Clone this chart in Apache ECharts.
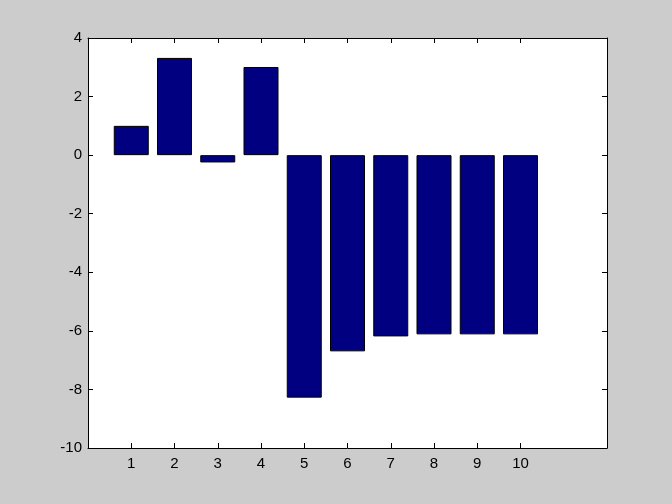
<!DOCTYPE html>
<html><head><meta charset="utf-8">
<script src="https://cdn.jsdelivr.net/npm/echarts@6/dist/echarts.min.js"></script>
<style>html,body{margin:0;padding:0;background:#cccccc}#c{width:672px;height:504px}</style>
</head><body><div id="c"></div>
<script>
var categories = [1, 2, 3, 4, 5, 6, 7, 8, 9, 10];
var values = [1.0, 3.32, -0.25, 3.01, -8.28, -6.7, -6.19, -6.12, -6.12, -6.12];
var yTicks = [-10, -8, -6, -4, -2, 0, 2, 4];

var chart = echarts.init(document.getElementById('c'), null, {renderer: 'canvas'});
var data = categories.map(function (c, i) { return [c, values[i]]; });
var font = {fontFamily: 'Liberation Sans, Arial', fontSize: 15, color: '#000'};
var line = {show: true, onZero: false, lineStyle: {color: '#000', width: 1}};
var tick = {show: true, inside: true, length: 5, lineStyle: {color: '#000', width: 1}};
option = {
  backgroundColor: '#cccccc',
  animation: false,
  grid: {left: 88, top: 38, right: 65, bottom: 56, show: true, backgroundColor: '#ffffff', borderWidth: 0},
  xAxis: [
    {type: 'value', min: 0, max: 12, interval: 1, position: 'bottom',
     axisLine: line, splitLine: {show: false},
     axisTick: Object.assign({customValues: categories}, tick),
     axisLabel: Object.assign({customValues: categories, margin: 8}, font)},
    {type: 'value', min: 0, max: 12, interval: 1, position: 'top',
     axisLine: line, splitLine: {show: false},
     axisTick: Object.assign({customValues: categories}, tick),
     axisLabel: {show: false}}
  ],
  yAxis: [
    {type: 'value', min: -10, max: 4, interval: 2, position: 'left',
     axisLine: line, splitLine: {show: false}, axisTick: tick,
     axisLabel: Object.assign({margin: 6, customValues: yTicks}, font)},
    {type: 'value', min: -10, max: 4, interval: 2, position: 'right',
     axisLine: line, splitLine: {show: false}, axisTick: tick,
     axisLabel: {show: false}}
  ],
  series: [{
    type: 'bar', xAxisIndex: 0, yAxisIndex: 0, data: data, barWidth: 35,
    itemStyle: {color: '#000080', borderColor: '#000', borderWidth: 1}
  }]
};
chart.setOption(option);
</script></body></html>
